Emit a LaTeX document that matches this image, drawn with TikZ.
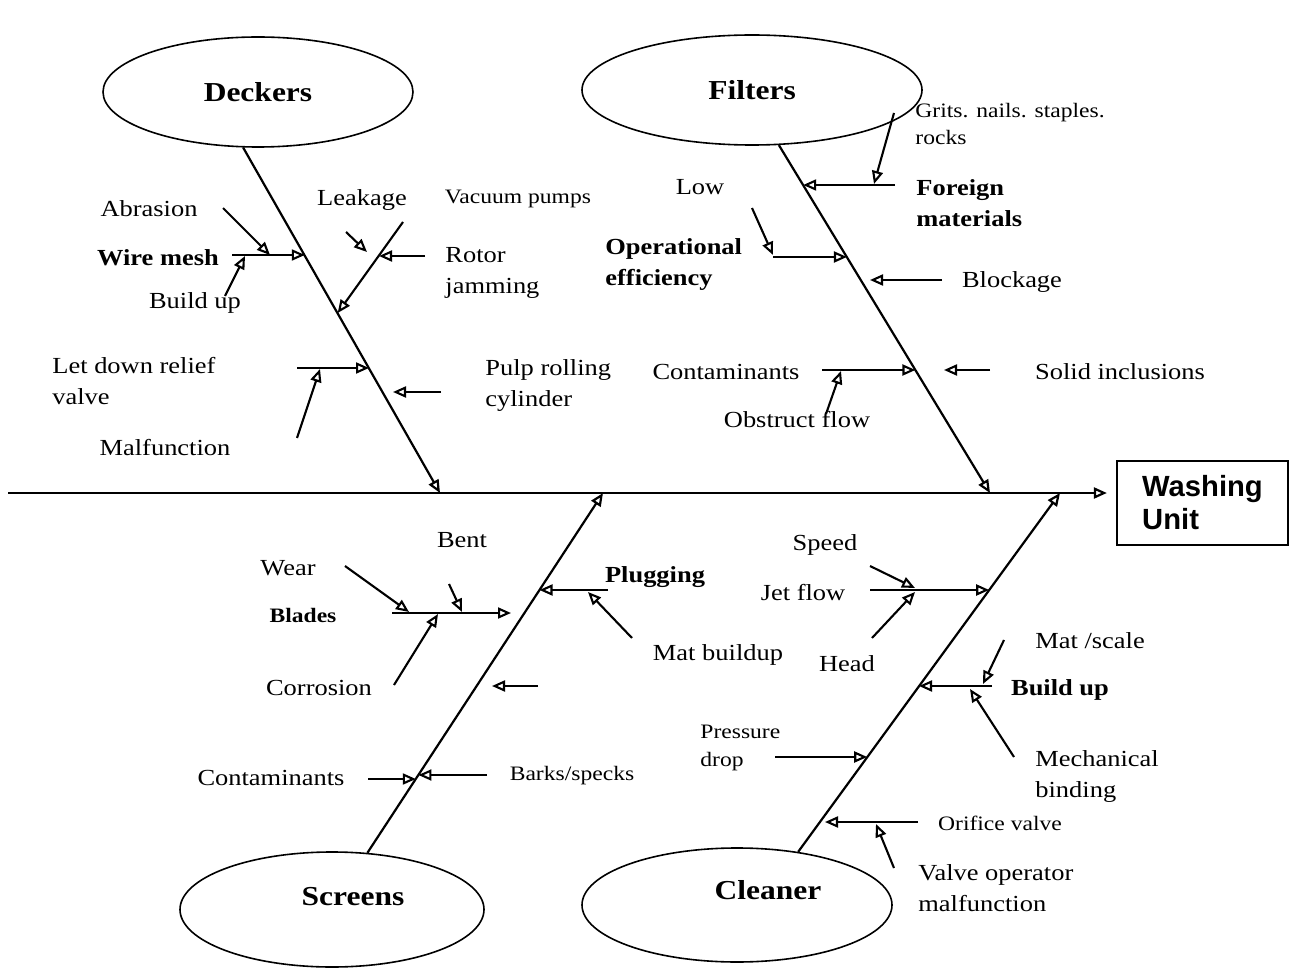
\documentclass[tikz,border=0pt]{standalone}
\usepackage{fontspec}
\setmainfont{Liberation Serif}[FakeStretch=1.15]
\newfontfamily\unitfont{Liberation Sans}
\usetikzlibrary{arrows.meta,shapes.geometric}

\tikzset{
  bone/.style={line width=1.1pt, -{Triangle[open,length=6.5pt,width=5.5pt]}},
  cause/.style={line width=1.05pt, -{Triangle[open,length=6.5pt,width=5.5pt]}},
  group/.style={ellipse, draw, line width=0.8pt, inner sep=0pt},
  grouptitle/.style={font=\bfseries\fontsize{13.7}{16}\selectfont},
  lbl/.style={inner sep=0pt, align=left, font=\fontsize{11.5}{15.5}\selectfont},
  keylbl/.style={lbl, font=\bfseries\fontsize{11.5}{15.5}\selectfont},
  sml/.style={inner sep=0pt, align=left, font=\fontsize{10.25}{13.75}\selectfont},
  smlkey/.style={sml, font=\bfseries\fontsize{10.25}{13.75}\selectfont},
}

\begin{document}
\begin{tikzpicture}[x=0.5pt, y=-0.5pt]
  \useasboundingbox (0,0) rectangle (1291,968);

  % effect and spine
  \node[draw, line width=1.1pt, minimum width=85.5pt, minimum height=42pt, align=left,
        font=\unitfont\bfseries\fontsize{14.6}{16.5}\selectfont] (wash) at (1202.5,503) {Washing\\Unit};
  \coordinate (spine) at (8,493);
  \draw[bone, shorten >=4.5pt] (spine) -- (spine -| wash.west);

  % the four groups
  \node[group, minimum width=155pt, minimum height=55pt] (deckers) at (258,92) {};
  \node[group, minimum width=170pt, minimum height=55pt] (filters) at (752,90) {};
  \node[group, minimum width=152pt, minimum height=57.5pt] (screens) at (332,909.5) {};
  \node[group, minimum width=155pt, minimum height=57pt] (cleaner) at (737,905) {};
  \node[grouptitle] (deckerstxt) at (deckers) {Deckers};
  \node[grouptitle] (filterstxt) at (filters) {Filters};
  \node[grouptitle] (screenstxt) at ([xshift=10.5pt, yshift=6.5pt]screens.center) {Screens};
  \node[grouptitle] (cleanertxt) at ([xshift=15.5pt, yshift=7.5pt]cleaner.center) {Cleaner};

  % bones
  \coordinate (dtip) at (440,493);
  \coordinate (ftip) at (990,493);
  \coordinate (stip) at (603,493);
  \coordinate (ctip) at (1060,493);
  \draw[bone] (deckers.-105) -- (dtip);
  \draw[bone] (filters.-64) -- (ftip);
  \draw[bone] (screens.58) -- (stip);
  \draw[bone] (cleaner.41) -- (ctip);

  % causes: name / free end / tip
  \foreach \br/\from/\to in {
      wire/{232,255}/{304.8,255}, abrasion/{223,208}/{270,255}, wbuild/{225,296}/{245,256},
      vacuum/{403,222}/{337.7,313}, leak/{346,232}/{367,252}, rotor/{425,256}/{379,256},
      relief/{297,368}/{369,368}, malf/{297,438}/{320,369}, pulp/{441,392}/{393,392}}
    {\coordinate (\br-a) at (\from); \coordinate (\br-b) at (\to); \draw[cause] (\br-a) -- (\br-b);}
  \foreach \br/\from/\to in {
      foreign/{895,185}/{803.2,185}, grits/{894,113}/{874,184},
      oper/{773,257}/{846.9,257}, low/{752,208}/{773,255}, block/{942,280}/{870,280},
      fcont/{822,370}/{915.4,370}, obst/{826,414}/{841,371}, solid/{990,370}/{944,370}}
    {\coordinate (\br-a) at (\from); \coordinate (\br-b) at (\to); \draw[cause] (\br-a) -- (\br-b);}
  \foreach \br/\from/\to in {
      blades/{392,613}/{511,613}, wear/{345,566}/{409,612}, bent/{449,584}/{462,612},
      corr/{394,685}/{438,614}, plug/{608,590}/{539.5,590}, mat/{632,638}/{588,592},
      spare/{538,686}/{492,686}, scont/{368,779}/{415.8,779}, barks/{487,775}/{418.4,775}}
    {\coordinate (\br-a) at (\from); \coordinate (\br-b) at (\to); \draw[cause] (\br-a) -- (\br-b);}
  \foreach \br/\from/\to in {
      jet/{870,590}/{989.2,590}, speed/{870,566}/{915,588}, hd/{872,638}/{915,592},
      cbuild/{992,686}/{919,686}, scale/{1004,640}/{983,684}, mech/{1014,757}/{970,689},
      press/{775,757}/{867.2,757}, orif/{918,822}/{825,822}, valve/{894,868}/{876,824}}
    {\coordinate (\br-a) at (\from); \coordinate (\br-b) at (\to); \draw[cause] (\br-a) -- (\br-b);}

  % labels, deckers
  \node[lbl] (abrasiontxt) at (149,209) {Abrasion};
  \node[keylbl] (wiretxt) at (158,258) {Wire mesh};
  \node[lbl] (wbuildtxt) at (195,303) {Build up};
  \node[lbl] (leaktxt) at (362,200) {Leakage};
  \node[sml] (vacuumtxt) at (518,199) {Vacuum pumps};
  \node[lbl, anchor=west] (rotortxt) at (445,273) {Rotor\\jamming};
  \node[lbl, anchor=west] (relieftxt) at (52,381) {Let down relief\\valve};
  \node[lbl] (malftxt) at (165,448) {Malfunction};
  \node[lbl, anchor=west] (pulptxt) at (485,386) {Pulp rolling\\cylinder};

  % labels, filters
  \node[lbl] (lowtxt) at (700,187) {Low};
  \node[keylbl, anchor=west] (opertxt) at (605,265) {Operational\\efficiency};
  \node[sml, anchor=west] (gritstxt) at (915,124) {Grits. nails. staples.\\rocks};
  \node[keylbl, anchor=west] (foreigntxt) at (916,203) {Foreign\\materials};
  \node[lbl] (blocktxt) at (1012,282) {Blockage};
  \node[lbl] (fconttxt) at (726,372) {Contaminants};
  \node[lbl] (obsttxt) at (797,420) {Obstruct flow};
  \node[lbl] (solidtxt) at (1120,372) {Solid inclusions};

  % labels, screens
  \node[lbl] (benttxt) at (462,540) {Bent};
  \node[lbl] (weartxt) at (288,568) {Wear};
  \node[smlkey] (bladestxt) at (303,615) {Blades};
  \node[lbl] (corrtxt) at (319,688) {Corrosion};
  \node[keylbl] (plugtxt) at (655,577) {Plugging};
  \node[lbl] (mattxt) at (718,655) {Mat buildup};
  \node[lbl] (sconttxt) at (271,778) {Contaminants};
  \node[sml] (barkstxt) at (572,776) {Barks/specks};

  % labels, cleaner
  \node[lbl] (speedtxt) at (825,545) {Speed};
  \node[lbl] (jettxt) at (803,593) {Jet flow};
  \node[lbl] (hdtxt) at (847,664) {Head};
  \node[lbl] (scaletxt) at (1090,641) {Mat /scale};
  \node[keylbl] (cbuildtxt) at (1060,690) {Build up};
  \node[lbl, anchor=west] (mechtxt) at (1035,776) {Mechanical\\binding};
  \node[sml, anchor=west] (presstxt) at (700,748) {Pressure\\drop};
  \node[sml] (oriftxt) at (1000,823) {Orifice valve};
  \node[lbl, anchor=west] (valvetxt) at (918,888) {Valve operator\\malfunction};
\end{tikzpicture}
\end{document}
